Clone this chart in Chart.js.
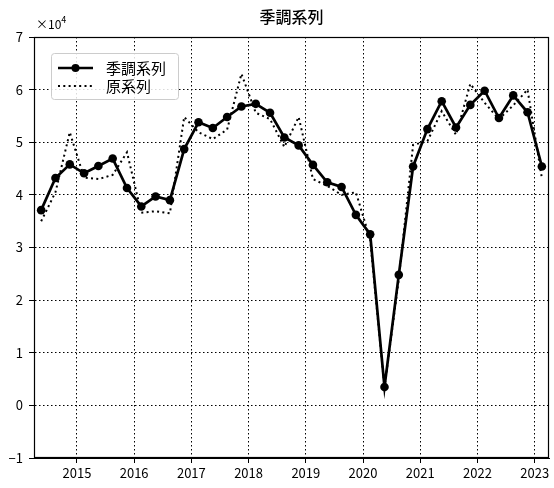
<!DOCTYPE html>
<html>
<head>
<meta charset="utf-8">
<script src="https://cdn.jsdelivr.net/npm/chart.js@4.4.7/dist/chart.umd.min.js"></script>
<style>
  html, body { margin: 0; padding: 0; background: #fff; }
  #wrap { width: 554px; height: 488px; }
</style>
</head>
<body>
<div id="wrap"><canvas id="chart" width="554" height="488"></canvas></div>
<script>
const FONT = "'Noto Sans CJK JP', 'Noto Sans', sans-serif";

const quarters = [
  "2014Q2", "2014Q3", "2014Q4",
  "2015Q1", "2015Q2", "2015Q3", "2015Q4",
  "2016Q1", "2016Q2", "2016Q3", "2016Q4",
  "2017Q1", "2017Q2", "2017Q3", "2017Q4",
  "2018Q1", "2018Q2", "2018Q3", "2018Q4",
  "2019Q1", "2019Q2", "2019Q3", "2019Q4",
  "2020Q1", "2020Q2", "2020Q3", "2020Q4",
  "2021Q1", "2021Q2", "2021Q3", "2021Q4",
  "2022Q1", "2022Q2", "2022Q3", "2022Q4",
  "2023Q1",
];

// 季調系列 (seasonally adjusted)
const seasonal = [
  37100, 43200, 45800,
  44100, 45500, 46900, 41300,
  37800, 39700, 39000, 48700,
  53800, 52700, 54800, 56800,
  57300, 55600, 50900, 49400,
  45700, 42400, 41500, 36200,
  32500, 3500, 24800, 45400,
  52500, 57800, 52800, 57100,
  59800, 54600, 58900, 55700,
  45400,
];

// 原系列 (original)
const original = [
  35000, 40500, 51900,
  43300, 43000, 43800, 48100,
  36600, 36900, 36500, 54800,
  51900, 50600, 52400, 63000,
  55600, 54400, 49100, 54800,
  43000, 41700, 40000, 40500,
  31500, 3400, 24000, 49500,
  50200, 55900, 51400, 61100,
  57500, 54400, 57000, 60000,
  43200,
];

const yearTicks = [2015, 2016, 2017, 2018, 2019, 2020, 2021, 2022, 2023];
const valueTicks = [-1, 0, 1, 2, 3, 4, 5, 6, 7];
const seriesNames = ["季調系列", "原系列"];
const chartTitle = "季調系列";

function quarterToYear(label) {
  const year = Number(label.slice(0, 4));
  const q = Number(label.slice(5));
  return year + (q - 1) / 4 + 0.125;
}

function toPoints(values) {
  return values.map((v, i) => ({ x: quarterToYear(quarters[i]), y: v / 10000 }));
}

function formatTick(value) {
  return value < 0 ? "\u2212" + Math.abs(value) : String(value);
}

const decorations = {
  id: "decorations",
  afterDraw(chart) {
    const ctx = chart.ctx;
    const area = chart.chartArea;
    ctx.save();

    // frame
    ctx.strokeStyle = "#000";
    ctx.lineWidth = 1.2;
    ctx.setLineDash([]);
    ctx.strokeRect(area.left + 0.5, area.top + 0.5, area.right - area.left - 1, area.bottom - area.top - 1);

    // title
    ctx.fillStyle = "#000";
    ctx.font = "500 16px " + FONT;
    ctx.textAlign = "center";
    ctx.textBaseline = "middle";
    ctx.fillText(chartTitle, (area.left + area.right) / 2, 17);

    // exponent label
    ctx.font = "12px " + FONT;
    ctx.textAlign = "left";
    ctx.textBaseline = "alphabetic";
    ctx.fillText("\u00d710", area.left + 2, 29);
    const w = ctx.measureText("\u00d710").width;
    ctx.font = "9px " + FONT;
    ctx.fillText("4", area.left + 2 + w, 23);

    // legend
    const lx = area.left + 17;
    const ly = area.top + 16;
    const lw = 127;
    const lh = 46;
    ctx.fillStyle = "rgba(255,255,255,0.85)";
    ctx.strokeStyle = "#cccccc";
    ctx.lineWidth = 1;
    ctx.beginPath();
    ctx.roundRect(lx + 0.5, ly + 0.5, lw, lh, 3);
    ctx.fill();
    ctx.stroke();

    const row1 = ly + 15;
    const row2 = ly + 33;
    ctx.strokeStyle = "#000";
    ctx.lineWidth = 2.5;
    ctx.beginPath();
    ctx.moveTo(lx + 7, row1);
    ctx.lineTo(lx + 42, row1);
    ctx.stroke();
    ctx.fillStyle = "#000";
    ctx.beginPath();
    ctx.arc(lx + 24.5, row1, 4, 0, Math.PI * 2);
    ctx.fill();

    ctx.lineWidth = 2;
    ctx.setLineDash([2, 3.3]);
    ctx.beginPath();
    ctx.moveTo(lx + 7, row2);
    ctx.lineTo(lx + 42, row2);
    ctx.stroke();
    ctx.setLineDash([]);

    ctx.font = "15px " + FONT;
    ctx.textAlign = "left";
    ctx.textBaseline = "middle";
    ctx.fillText(seriesNames[0], lx + 55, row1);
    ctx.fillText(seriesNames[1], lx + 55, row2);

    ctx.restore();
  },
};

const gridOpts = {
  color: "#000",
  lineWidth: 1,
  tickLength: 5,
  tickColor: "#000",
  tickBorderDash: [],
};

new Chart(document.getElementById("chart"), {
  type: "line",
  data: {
    datasets: [
      {
        label: seriesNames[1],
        data: toPoints(original),
        borderColor: "#000",
        borderWidth: 2,
        borderDash: [2, 3.3],
        pointRadius: 0,
        tension: 0,
        order: 2,
      },
      {
        label: seriesNames[0],
        data: toPoints(seasonal),
        borderColor: "#000",
        backgroundColor: "#000",
        borderWidth: 2.7,
        pointRadius: 4.3,
        pointBackgroundColor: "#000",
        pointBorderWidth: 0,
        tension: 0,
        order: 1,
      },
    ],
  },
  options: {
    responsive: false,
    animation: false,
    layout: { padding: { top: 37, right: 5, left: 0, bottom: 0 } },
    plugins: {
      legend: { display: false },
      title: { display: false },
      tooltip: { enabled: false },
    },
    scales: {
      x: {
        type: "linear",
        min: 2014.25,
        max: 2023.25,
        afterBuildTicks(scale) {
          scale.ticks = yearTicks.map((v) => ({ value: v }));
        },
        afterFit(scale) {
          scale.height = 30;
        },
        ticks: {
          color: "#000",
          font: { family: FONT, size: 13 },
          padding: 2,
          maxRotation: 0,
          callback: (v) => String(v),
        },
        grid: gridOpts,
        border: { display: true, color: "#000", width: 1, dash: [1.5, 2.5] },
      },
      y: {
        min: -1,
        max: 7,
        afterBuildTicks(scale) {
          scale.ticks = valueTicks.map((v) => ({ value: v }));
        },
        afterFit(scale) {
          scale.width = 34;
        },
        ticks: {
          color: "#000",
          font: { family: FONT, size: 13 },
          padding: 6,
          callback: formatTick,
        },
        grid: gridOpts,
        border: { display: true, color: "#000", width: 1, dash: [1.5, 2.5] },
      },
    },
  },
  plugins: [decorations],
});
</script>
</body>
</html>
